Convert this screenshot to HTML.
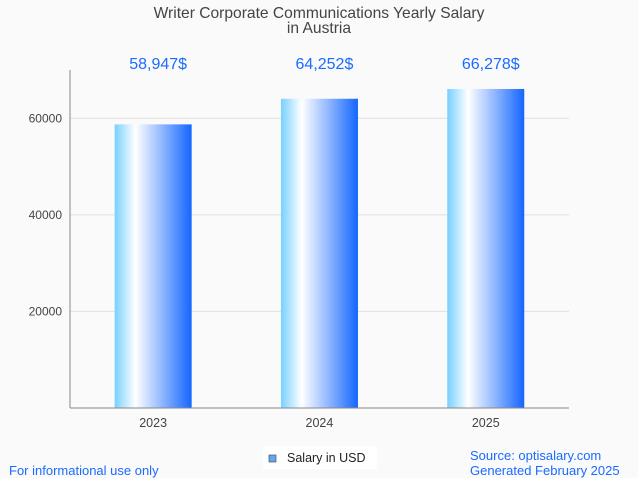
<!DOCTYPE html>
<html><head><meta charset="utf-8"><style>
body{margin:0;background:#fafafa;font-family:"Liberation Sans",sans-serif}
svg{display:block}
</style></head><body>
<svg width="638" height="478">
<defs><linearGradient id="g" x1="0" x2="1" y1="0" y2="0">
<stop offset="0" stop-color="#78d0ff"/><stop offset="0.27" stop-color="#ffffff"/><stop offset="1" stop-color="#1466ff"/>
</linearGradient></defs>
<rect width="638" height="478" fill="#fafafa"/>
<text x="319" y="18" text-anchor="middle" font-size="15.6" fill="#444">Writer Corporate Communications Yearly Salary</text>
<text x="319" y="33" text-anchor="middle" font-size="15.6" fill="#444">in Austria</text>
<g id="grid"></g><g id="bars"></g><g id="labels"></g>
<line x1="70" y1="70" x2="70" y2="408" stroke="#888"/>
<line x1="70" y1="408" x2="569" y2="408" stroke="#888"/>
<rect x="263" y="446" width="114" height="23" fill="#fff"/>
<rect x="269" y="455" width="7" height="7" fill="#5ea8f0" stroke="#555" stroke-width="0.7"/>
<text x="287" y="462" font-size="12.5" fill="#222">Salary in USD</text>
<text x="9" y="475" font-size="13" fill="#1a6bff">For informational use only</text>
<text x="470" y="460" font-size="13" fill="#1a6bff">Source: optisalary.com</text>
<text x="470" y="475" font-size="13" fill="#1a6bff">Generated February 2025</text>
</svg>
<script>
const categories=["2023","2024","2025"];
const values=[58947,64252,66278];
const valueLabels=["58,947$","64,252$","66,278$"];
const yTicks=[20000,40000,60000];
const NS="http://www.w3.org/2000/svg";
const y=v=>408-v/70000*338;
const x0=70,band=166.3,bw=77;
const mk=(t,a,p)=>{const e=document.createElementNS(NS,t);for(const k in a)e.setAttribute(k,a[k]);document.getElementById(p).appendChild(e);return e;};
yTicks.forEach(t=>{
 const l=mk("line",{x1:70,x2:569,y1:y(t),y2:y(t),stroke:"#e0e0e0"},"grid");
 
 
 const tx=mk("text",{x:62,y:y(t)+4,"text-anchor":"end","font-size":12,fill:"#444"},"grid");
 tx.textContent=t;
 
 
});
categories.forEach((c,i)=>{
 const cx=x0+band*(i+0.5);
 const r=mk("rect",{x:cx-bw/2,y:y(values[i])+1,width:bw,height:407-y(values[i]),fill:"url(#g)"},"bars");
 
 
 const v=mk("text",{x:cx+5,y:69,"text-anchor":"middle","font-size":16,fill:"#1a6bff"},"labels");
 v.textContent=valueLabels[i];
 
 
 const xl=mk("text",{x:cx,y:427,"text-anchor":"middle","font-size":12.5,fill:"#444"},"labels");
 xl.textContent=c;
 
 
});
</script>
</body></html>
